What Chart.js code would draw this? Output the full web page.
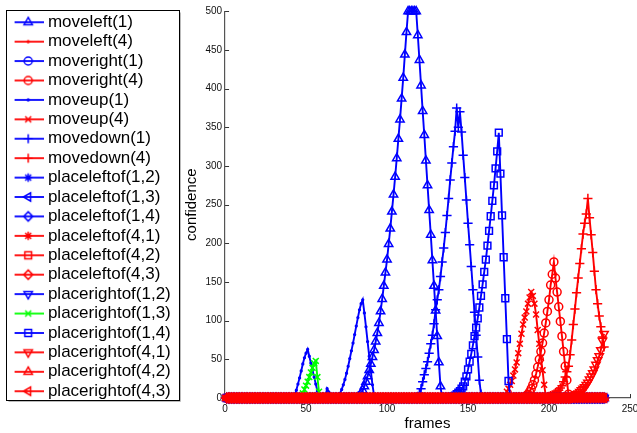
<!DOCTYPE html>
<html>
<head>
<meta charset="utf-8">
<script src="https://cdn.jsdelivr.net/npm/chart.js@4.4.1/dist/chart.umd.min.js"></script>
<style>
html, body { margin: 0; padding: 0; background: #fff; }
</style>
</head>
<body>
<canvas id="chart" width="637" height="433"></canvas>
<script>
var frameCount = 234;
var xTicks = [0, 50, 100, 150, 200, 250];
var yTicks = [0, 50, 100, 150, 200, 250, 300, 350, 400, 450, 500];

var seriesNames = ['moveleft(1)', 'moveleft(4)', 'moveright(1)', 'moveright(4)', 'moveup(1)', 'moveup(4)',
  'movedown(1)', 'movedown(4)', 'placeleftof(1,2)', 'placeleftof(1,3)', 'placeleftof(1,4)', 'placeleftof(4,1)',
  'placeleftof(4,2)', 'placeleftof(4,3)', 'placerightof(1,2)', 'placerightof(1,3)', 'placerightof(1,4)',
  'placerightof(4,1)', 'placerightof(4,2)', 'placerightof(4,3)'];
var seriesColors = ['#0000ff', '#ff0000', '#0000ff', '#ff0000', '#0000ff', '#ff0000', '#0000ff', '#ff0000',
  '#0000ff', '#0000ff', '#0000ff', '#ff0000', '#ff0000', '#ff0000', '#0000ff', '#00ff00', '#0000ff',
  '#ff0000', '#ff0000', '#ff0000'];
var seriesMarkers = ['^', '.', 'o', 'o', '.', 'x', '+', '+', '*', '<', 'd', '*', 's', 'd', 'v', 'x', 's', 'v', '^', '<'];

// nonzero stretches of each series: [first frame, values...]; every other frame is 0
var moveleft1 = [[82, [1, 3, 6, 10, 15, 21, 28, 36, 44, 53, 62, 73, 84, 97, 112, 128, 145, 162, 179, 199,
  219, 241, 263, 286, 310, 335, 360, 387, 414, 444, 473, 500, 500, 500, 500, 500, 500, 469, 437, 404,
  371, 340, 307, 275, 243, 211, 178, 145, 113, 80, 46, 15]]];
var moveleft4 = [];
var moveright1 = [];
var moveright4 = [[185, [1, 3, 5, 8, 12, 17, 23, 31, 40, 50, 60, 71, 84, 97, 112, 127, 146, 160, 176, 155,
  137, 118, 99, 80, 60, 41, 23, 5]]];
var moveup1 = [[43, [3, 10, 18, 26, 35, 44, 52, 58, 63, 54, 45, 36, 27, 18, 9, 2]],
  [62, [3, 12, 8, 1]],
  [70, [2, 6, 11, 17, 24, 32, 41, 51, 61, 71, 82, 93, 104, 114, 122, 127, 110, 92, 73, 54, 35, 17, 3]]];
var moveup4 = [[174, [8, 12, 17, 22, 29, 37, 46, 58, 70, 83, 95, 104, 112, 122, 130, 137, 132, 122, 108, 88,
  70, 52, 36, 17, 3]]];
var movedown1 = [[119, [2, 6, 12, 21, 30, 38, 47, 58, 70, 81, 96, 114, 127, 140, 157, 176, 194, 214, 236, 258,
  282, 304, 325, 345, 375, 350, 370, 344, 314, 285, 256, 226, 198, 170, 140, 111, 81, 53, 23, 5]]];
var movedown4 = [[200, [2, 3, 4, 5, 7, 8, 10, 13, 16, 21, 27, 34, 41, 56, 75, 95, 115, 136, 155, 174,
  193, 212, 226, 238, 258, 233, 211, 188, 164, 140, 122, 106, 92, 79, 66]]];
var placeleftof12 = [];
var placeleftof13 = [];
var placeleftof14 = [];
var placeleftof41 = [];
var placeleftof42 = [];
var placeleftof43 = [];
var placerightof12 = [];
var placerightof13 = [[47, [2, 6, 11, 16, 21, 27, 33, 39, 45, 48, 27, 8]]];
var placerightof14 = [[140, [1, 2, 3, 5, 7, 9, 12, 15, 21, 28, 37, 47, 57, 68, 80, 91, 103, 117, 132, 147,
  163, 179, 197, 216, 235, 255, 275, 297, 319, 343, 290, 236, 182, 129, 76, 22]]];
var placerightof41 = [[214, [1, 2, 3, 5, 6, 8, 10, 12, 14, 17, 20, 24, 28, 32, 37, 43, 49, 54, 62, 74, 83]]];
var placerightof42 = [];
var placerightof43 = [];

var seriesBumps = [moveleft1, moveleft4, moveright1, moveright4, moveup1, moveup4, movedown1, movedown4,
  placeleftof12, placeleftof13, placeleftof14, placeleftof41, placeleftof42, placeleftof43,
  placerightof12, placerightof13, placerightof14, placerightof41, placerightof42, placerightof43];

var markerShapes = {
  '^': { style: 'triangle', rotation: 0, radius: 4.8 },
  'v': { style: 'triangle', rotation: 180, radius: 4.8 },
  '<': { style: 'triangle', rotation: 270, radius: 4.8 },
  'o': { style: 'circle', rotation: 0, radius: 4 },
  's': { style: 'rect', rotation: 0, radius: 4.8 },
  'd': { style: 'rectRot', rotation: 0, radius: 4.6 },
  '+': { style: 'cross', rotation: 0, radius: 4.6 },
  'x': { style: 'crossRot', rotation: 0, radius: 4.2 },
  '*': { style: 'star', rotation: 0, radius: 4.2 },
  '.': { style: 'circle', rotation: 0, radius: 0.9, filled: true }
};

function toPoints(bumps) {
  var ys = [];
  for (var f = 1; f <= frameCount; f++) ys[f] = 0;
  bumps.forEach(function (b) {
    b[1].forEach(function (v, k) { ys[b[0] + k] = v; });
  });
  var pts = [];
  for (var f = 1; f <= frameCount; f++) pts.push({ x: f, y: ys[f] });
  return pts;
}

// little line+marker picture for each legend row
function legendIcon(i) {
  var c = document.createElement('canvas');
  c.width = 32; c.height = 14;
  var g = c.getContext('2d');
  var m = markerShapes[seriesMarkers[i]];
  g.strokeStyle = seriesColors[i];
  g.lineWidth = 1.8;
  g.beginPath(); g.moveTo(0, 7); g.lineTo(32, 7); g.stroke();
  g.fillStyle = m.filled ? seriesColors[i] : 'rgba(0,0,0,0)';
  g.lineWidth = 1.5;
  Chart.helpers.drawPoint(g, { pointStyle: m.style, rotation: m.rotation, radius: m.radius, borderWidth: 1.5 }, 16, 7);
  return c;
}

var datasets = seriesNames.map(function (name, i) {
  var m = markerShapes[seriesMarkers[i]];
  return {
    label: name,
    data: toPoints(seriesBumps[i]),
    borderColor: seriesColors[i],
    borderWidth: 1.9,
    pointStyle: m.style,
    pointRotation: m.rotation,
    pointRadius: m.radius,
    pointHoverRadius: m.radius,
    pointBorderWidth: 1.5,
    pointBorderColor: seriesColors[i],
    pointBackgroundColor: m.filled ? seriesColors[i] : 'rgba(0,0,0,0)',
    tension: 0,
    clip: false,
    order: seriesNames.length - i
  };
});
var icons = seriesNames.map(function (n, i) { return legendIcon(i); });

// the layout caps a side box at a quarter of the width; let the legend take what its text needs
var wideLegend = {
  id: 'wideLegend',
  beforeLayout: function (chart) {
    var L = chart.legend;
    if (L && !L._wide) {
      var fit = L.fit;
      L.fit = function () { this.maxWidth = 400; fit.call(this); };
      L._wide = true;
    }
  }
};

var innerTicks = {
  id: 'innerTicks',
  beforeDatasetsDraw: function (chart) {
    var ctx = chart.ctx, xs = chart.scales.x, ys = chart.scales.y;
    ctx.save();
    ctx.strokeStyle = '#333';
    ctx.lineWidth = 1;
    ctx.beginPath();
    xs.ticks.forEach(function (t) {
      var px = Math.round(xs.getPixelForValue(t.value)) + 0.5;
      ctx.moveTo(px, xs.top); ctx.lineTo(px, xs.top - 4);
    });
    ys.ticks.forEach(function (t) {
      var py = Math.round(ys.getPixelForValue(t.value)) + 0.5;
      ctx.moveTo(ys.right, py); ctx.lineTo(ys.right + 4, py);
    });
    ctx.stroke();
    ctx.restore();
  }
};

var legendFrame = {
  id: 'legendFrame',
  afterDraw: function (chart) {
    var L = chart.legend, hb = L.legendHitBoxes;
    if (!hb || !hb.length) return;
    var first = hb[0], last = hb[hb.length - 1];
    var x0 = Math.round(first.left - 11) + 0.5, y0 = Math.round(first.top - 4) + 0.5;
    var x1 = Math.round(L.right - 2) + 0.5, y1 = Math.round(last.top + last.height) + 0.5;
    var ctx = chart.ctx;
    ctx.save();
    ctx.lineWidth = 1;
    ctx.strokeStyle = '#bbb';
    ctx.beginPath();
    ctx.moveTo(x0 + 2, y1 + 1); ctx.lineTo(x1 + 1, y1 + 1); ctx.lineTo(x1 + 1, y0 + 2);
    ctx.stroke();
    ctx.strokeStyle = '#000';
    ctx.strokeRect(x0, y0, x1 - x0, y1 - y0);
    ctx.restore();
  }
};

var tickFont = { family: 'Liberation Sans, Arial, sans-serif', size: 10 };
var titleFont = { family: 'Liberation Sans, Arial, sans-serif', size: 15 };

new Chart(document.getElementById('chart').getContext('2d'), {
  type: 'line',
  data: { datasets: datasets },
  options: {
    responsive: false,
    animation: false,
    events: [],
    layout: { padding: { left: 14.6, top: 11.3, right: 7, bottom: 0 } },
    plugins: {
      tooltip: { enabled: false },
      legend: {
        position: 'left',
        align: 'start',
        labels: {
          usePointStyle: true,
          pointStyleWidth: 22.4,
          padding: 2.42,
          color: '#000',
          font: { family: 'Liberation Sans, Arial, sans-serif', size: 17 },
          generateLabels: function (chart) {
            return chart.data.datasets.map(function (ds, i) {
              return { text: ds.label, pointStyle: icons[i], fillStyle: seriesColors[i],
                strokeStyle: seriesColors[i], lineWidth: 0, hidden: false, datasetIndex: i, fontColor: '#000' };
            });
          }
        }
      }
    },
    scales: {
      x: {
        type: 'linear',
        min: 0,
        max: 250,
        afterBuildTicks: function (s) { s.ticks = xTicks.map(function (v) { return { value: v }; }); },
        afterFit: function (s) { s.height = 35; s.paddingLeft = 0; s.paddingRight = 0; },
        grid: { display: false, drawTicks: false },
        border: { display: true, color: '#555', width: 1.2 },
        ticks: { font: tickFont, color: '#111', padding: 5, maxRotation: 0, autoSkip: false },
        title: { display: true, text: 'frames', font: titleFont, color: '#000', padding: { top: 2, bottom: 0.5 } }
      },
      y: {
        type: 'linear',
        min: 0,
        max: 500,
        afterBuildTicks: function (s) { s.ticks = yTicks.map(function (v) { return { value: v }; }); },
        afterFit: function (s) { s.width = 44.3; },
        grid: { display: false, drawTicks: false },
        border: { display: true, color: '#555', width: 1.2 },
        ticks: { font: tickFont, color: '#111', padding: 3, autoSkip: false },
        title: { display: true, text: 'confidence', font: titleFont, color: '#000', padding: { top: 2, bottom: 2 } }
      }
    }
  },
  plugins: [wideLegend, innerTicks, legendFrame]
});
</script>
</body>
</html>
